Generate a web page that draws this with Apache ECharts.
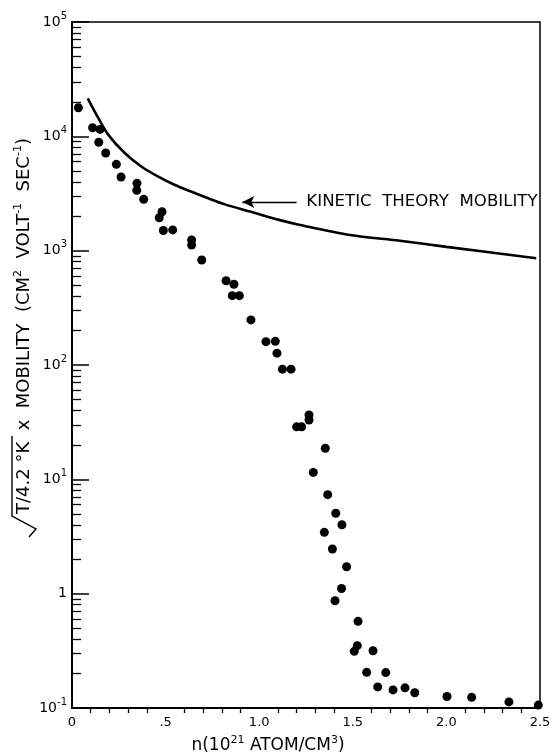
<!DOCTYPE html>
<html><head><meta charset="utf-8">
<script src="https://cdn.jsdelivr.net/npm/echarts@6/dist/echarts.min.js"></script>
<style>html,body{margin:0;padding:0;background:#fff}#c{width:557px;height:753px}</style>
</head><body><div id="c"></div>
<script>
// measured points (n in 1e21 atom/cm^3, sqrt(T/4.2K) x mobility)
const dotX = [0.034,0.110,0.150,0.143,0.180,0.237,0.262,0.347,0.346,0.383,0.481,0.466,0.488,0.538,0.639,0.639,0.693,0.823,0.865,0.856,0.894,0.956,1.036,1.086,1.095,1.124,1.170,1.266,1.266,1.200,1.227,1.353,1.289,1.366,1.409,1.442,1.348,1.391,1.467,1.440,1.405,1.528,1.524,1.508,1.608,1.574,1.676,1.633,1.715,1.779,1.831,2.003,2.135,2.334,2.491];
const dotY = [17800,11900,11500,8870,7150,5690,4410,3880,3370,2810,2190,1940,1500,1520,1240,1120,828,546,508,404,404,248,160,161,127,92,92,36.5,33,28.8,28.8,18.7,11.5,7.34,5.05,4.01,3.44,2.46,1.72,1.11,0.867,0.573,0.351,0.313,0.317,0.205,0.204,0.153,0.144,0.150,0.136,0.126,0.124,0.113,0.106];
// kinetic theory mobility curve
const kineticX = [0.084,0.141,0.194,0.283,0.372,0.461,0.550,0.639,0.728,0.817,0.951,1.111,1.218,1.485,1.752,2.0,2.48];
const kineticY = [21500,14400,10300,7110,5420,4440,3750,3280,2870,2540,2200,1850,1680,1370,1220,1080,857];
// ticks
const xTickValues = [0,0.5,1,1.5,2,2.5];
const xTickLabels = ['0','.5','1.0','1.5','2.0','2.5'];
const yTickValues = [0.1,1,10,100,1000,10000,100000];
const yTickBase = ['10','1','10','10','10','10','10'];
const yTickSup = ['-1','','1','2','3','4','5'];
// annotation
const annotText = 'KINETIC  THEORY  MOBILITY';
const annotY = 2665;
const arrowFromX = 1.20, arrowToX = 0.91, annotTextX = 1.252;

const FONT = 'DejaVu Sans';
const yMinor = [];
for (let e = -1; e < 5; e++) for (let k = 2; k <= 9; k++) yMinor.push(k * Math.pow(10, e));

const chart = echarts.init(document.getElementById('c'), null, {renderer: 'canvas'});
const option = {
  animation: false,
  backgroundColor: '#fff',
  grid: {left: 72, right: 17, top: 22, bottom: 45, show: true, borderColor: '#000', borderWidth: 1.5},
  xAxis: {
    type: 'value', min: 0, max: 2.5, interval: 0.5,
    axisLine: {show: true, lineStyle: {color: '#000', width: 1.8}},
    axisTick: {show: false},
    minorTick: {show: true, splitNumber: 5, length: 5, lineStyle: {color: '#000', width: 1.3}},
    splitLine: {show: false}, minorSplitLine: {show: false},
    axisLabel: {
      margin: 8, color: '#000', fontFamily: FONT, fontSize: 13,
      formatter: v => { const i = xTickValues.findIndex(t => Math.abs(t - v) < 1e-6); return i >= 0 ? xTickLabels[i] : ''; }
    }
  },
  yAxis: [{
    type: 'log', logBase: 10, min: 0.1, max: 100000, interval: 1,
    axisLine: {show: true, lineStyle: {color: '#000', width: 1.8}},
    axisTick: {show: true, inside: true, length: 17, lineStyle: {color: '#000', width: 1.5}},
    splitLine: {show: false},
    axisLabel: {
      margin: 5, color: '#000', fontFamily: FONT,
      formatter: v => {
        const i = yTickValues.findIndex(t => Math.abs(Math.log10(t) - Math.log10(v)) < 1e-6);
        if (i < 0) return '';
        return '{b|' + yTickBase[i] + '}' + (yTickSup[i] ? '{s|' + yTickSup[i] + '}' : '');
      },
      rich: {
        b: {fontSize: 14, fontFamily: FONT, color: '#000', lineHeight: 22},
        s: {fontSize: 10, fontFamily: FONT, color: '#000', verticalAlign: 'top', lineHeight: 12}
      }
    }
  }, {
    type: 'log', logBase: 10, min: 0.1, max: 100000, position: 'left',
    axisLine: {show: false},
    axisTick: {show: true, inside: true, length: 9, customValues: yMinor, lineStyle: {color: '#000', width: 1.3}},
    axisLabel: {show: false},
    splitLine: {show: false}
  }],
  series: [{
    type: 'line', name: 'kinetic',
    data: kineticX.map((x, i) => [x, kineticY[i]]),
    smooth: 0.3, showSymbol: false, symbol: 'none',
    lineStyle: {color: '#000', width: 2.6},
    markLine: {
      silent: true, symbol: ['none', 'arrow'], symbolSize: [9, 12],
      label: {show: false},
      lineStyle: {color: '#000', width: 1.3, type: 'solid'},
      data: [[{coord: [arrowFromX, annotY]}, {coord: [arrowToX, annotY]}]]
    }
  }, {
    type: 'scatter', name: 'measured',
    data: dotX.map((x, i) => [x, dotY[i]]),
    symbol: 'circle', symbolSize: 9,
    itemStyle: {color: '#000', opacity: 1}
  }]
};
chart.setOption(option);

const p = chart.convertToPixel({gridIndex: 0}, [annotTextX, annotY]);
chart.setOption({
  graphic: [
    {type: 'text', x: p[0], y: p[1], style: {text: annotText, fontFamily: FONT, fontSize: 16.6, fill: '#000', align: 'left', verticalAlign: 'middle'}},
    {type: 'text', x: 268, y: 746, style: {
      text: 'n(10{s|21} ATOM/CM{s|3})', fontFamily: FONT, fontSize: 17, fill: '#000', align: 'center', verticalAlign: 'middle',
      rich: {s: {fontSize: 11, fontFamily: FONT, fill: '#000', verticalAlign: 'top', lineHeight: 12}}, lineHeight: 22
    }},
    {type: 'text', x: 24, y: 514, rotation: Math.PI / 2, style: {
      text: 'T/4.2 °K  x  MOBILITY  (CM{s|2}  VOLT{s|-1}  SEC{s|-1})', fontFamily: FONT, fontSize: 18, fill: '#000', align: 'left', verticalAlign: 'middle',
      rich: {s: {fontSize: 11, fontFamily: FONT, fill: '#000', verticalAlign: 'top', lineHeight: 12}}, lineHeight: 22
    }},
    {type: 'polyline', shape: {points: [[12, 436], [12, 516], [36, 529], [29, 537]]}, style: {stroke: '#000', lineWidth: 1.4, fill: null}}
  ]
});
</script></body></html>
